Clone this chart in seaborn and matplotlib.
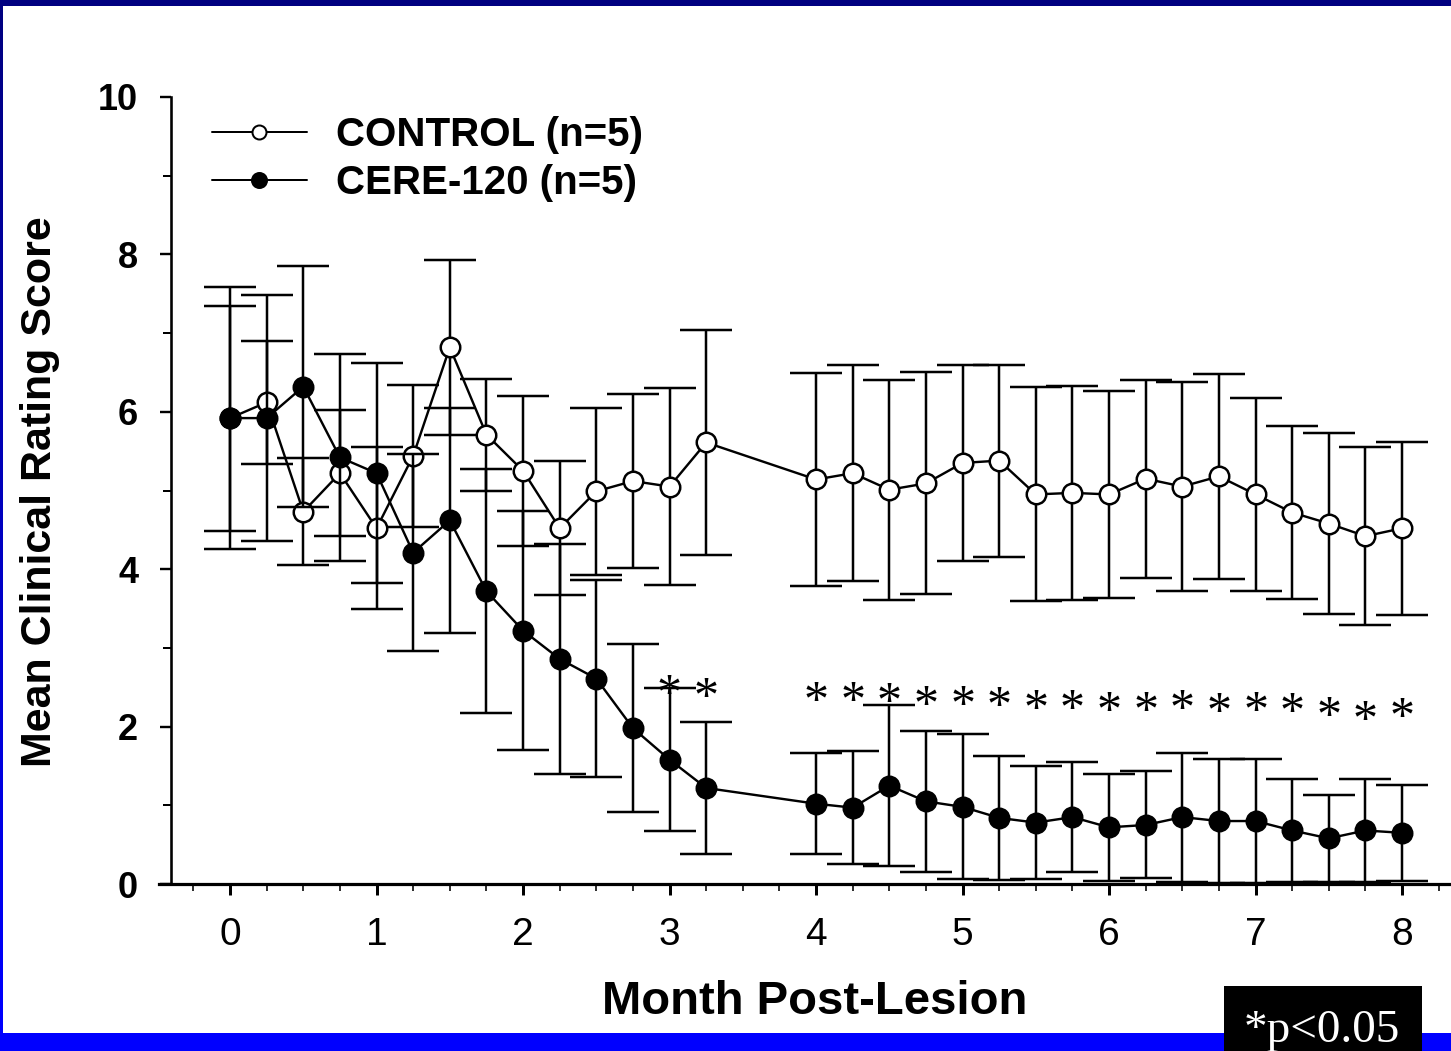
import numpy as np
import pandas as pd
import matplotlib
matplotlib.use("Agg")
import matplotlib.pyplot as plt
import seaborn as sns
from matplotlib.lines import Line2D
from matplotlib.patches import Rectangle
from matplotlib.ticker import FixedLocator
from matplotlib.colors import LinearSegmentedColormap
from matplotlib.font_manager import FontProperties

# ---------------- data ----------------
months = [0, 0.25, 0.5, 0.75, 1.0, 1.25, 1.5, 1.75, 2.0, 2.25, 2.5, 2.75, 3.0, 3.25,
          4.0, 4.25, 4.5, 4.75, 5.0, 5.25, 5.5, 5.75, 6.0, 6.25, 6.5, 6.75, 7.0, 7.25,
          7.5, 7.75, 8.0]
control_mean = [5.92, 6.12, 4.73, 5.22, 4.52, 5.44, 6.82, 5.71, 5.25, 4.52, 4.99, 5.12,
                5.05, 5.61, 5.14, 5.22, 5.01, 5.09, 5.35, 5.38, 4.95, 4.97, 4.95, 5.15,
                5.05, 5.18, 4.95, 4.72, 4.58, 4.42, 4.52]
control_sem = [1.66, 0.78, 0.68, 0.80, 1.03, 0.90, 1.11, 0.71, 0.95, 0.85, 1.06, 1.11,
               1.25, 1.43, 1.35, 1.37, 1.40, 1.41, 1.25, 1.22, 1.36, 1.36, 1.32, 1.26,
               1.33, 1.30, 1.23, 1.10, 1.15, 1.13, 1.10]
cere_mean = [5.92, 5.92, 6.32, 5.42, 5.22, 4.21, 4.62, 3.72, 3.22, 2.86, 2.61, 1.98,
             1.58, 1.22, 1.02, 0.97, 1.25, 1.05, 0.98, 0.84, 0.78, 0.85, 0.72, 0.75,
             0.85, 0.80, 0.80, 0.68, 0.58, 0.68, 0.65]
cere_sem = [1.43, 1.56, 1.53, 1.31, 1.40, 1.25, 1.43, 1.55, 1.52, 1.46, 1.25, 1.07,
            0.91, 0.84, 0.64, 0.72, 1.02, 0.90, 0.92, 0.79, 0.72, 0.70, 0.68, 0.68,
            0.82, 0.79, 0.79, 0.66, 0.55, 0.66, 0.61]
groups = ["CONTROL (n=5)", "CERE-120 (n=5)"]
sig_months = [3.0, 3.25, 4.0, 4.25, 4.5, 4.75, 5.0, 5.25, 5.5, 5.75, 6.0, 6.25, 6.5,
              6.75, 7.0, 7.25, 7.5, 7.75, 8.0]
sig_heights = [2.53, 2.50, 2.44, 2.44, 2.43, 2.40, 2.40, 2.38, 2.35, 2.34, 2.32, 2.32,
               2.34, 2.30, 2.32, 2.30, 2.25, 2.21, 2.24]
x_ticks = [0, 1, 2, 3, 4, 5, 6, 7, 8]
y_ticks = [0, 2, 4, 6, 8, 10]
x_label = "Month Post-Lesion"
y_label = "Mean Clinical Rating Score"
note_text = "*p<0.05"

n = len(months)
df = pd.DataFrame({
    "month": months * 2,
    "score": control_mean + cere_mean,
    "sem": control_sem + cere_sem,
    "group": [groups[0]] * n + [groups[1]] * n,
})

# ---------------- style ----------------
sns.set_theme(style="ticks")
plt.rcParams["font.family"] = ["Liberation Sans", "DejaVu Sans"]
plt.rcParams["text.color"] = "black"
plt.rcParams["axes.labelcolor"] = "black"
plt.rcParams["xtick.color"] = "black"
plt.rcParams["ytick.color"] = "black"
plt.rcParams["legend.labelcolor"] = "black"
PX = 72 / 100.0  # points per pixel

W, H = 1451, 1051
fig = plt.figure(figsize=(W / 100, H / 100), dpi=100)
fig.patch.set_facecolor("white")

ax = fig.add_axes([159 / W, (H - 884) / H, (W - 159) / W, (884 - 97) / H])
ax.set_facecolor("white")

face = {groups[0]: "white", groups[1]: "black"}
z0 = 2
for g in groups:
    sub = df[df["group"] == g]
    ax.errorbar(sub["month"], sub["score"], yerr=sub["sem"], fmt="none",
                ecolor="black", elinewidth=2.5 * PX, capsize=26 * PX,
                capthick=2.5 * PX, zorder=z0)
    sns.lineplot(data=sub, x="month", y="score", ax=ax, color="black",
                 linewidth=2.4 * PX, marker="o", markersize=19.5 * PX,
                 markerfacecolor=face[g], markeredgecolor="black",
                 markeredgewidth=2.5 * PX, errorbar=None, legend=False,
                 zorder=z0 + 1)
    z0 += 2

star_fs = 36
for m, h in zip(sig_months, sig_heights):
    ax.annotate("*", xy=(m, h), xytext=(0, -0.47 * star_fs), textcoords="offset points",
                ha="center", va="baseline", fontsize=star_fs,
                family=["Liberation Serif", "DejaVu Serif"], color="black", zorder=10)

# axes limits / spines
ax.set_xlim(-0.485, 8.334)
ax.set_ylim(0, 10)
for s in ["top", "right"]:
    ax.spines[s].set_visible(False)
ax.spines["left"].set_position(("data", -0.40))
ax.spines["left"].set_linewidth(2.6 * PX)
ax.spines["bottom"].set_linewidth(3.2 * PX)
ax.spines["left"].set_color("black")
ax.spines["bottom"].set_color("black")

ax.set_xticks(x_ticks)
ax.set_xticklabels([str(t) for t in x_ticks])
ax.xaxis.set_minor_locator(FixedLocator(np.arange(-0.25, 8.26, 0.25)))
ax.set_yticks(y_ticks)
ax.set_yticklabels([str(t) for t in y_ticks])
ax.yaxis.set_minor_locator(FixedLocator([1, 3, 5, 7, 9]))

ax.tick_params(axis="x", which="major", direction="out", length=11 * PX,
               width=3 * PX, labelsize=28, pad=16, colors="black")
ax.tick_params(axis="x", which="minor", direction="out", length=7 * PX,
               width=1.6 * PX, colors="black")
ax.tick_params(axis="y", which="major", direction="out", length=11 * PX,
               width=2.4 * PX, labelsize=26, pad=16, colors="black")
ax.tick_params(axis="y", which="minor", direction="out", length=8 * PX,
               width=2.0 * PX, colors="black")
for lab in ax.get_yticklabels():
    lab.set_fontweight("bold")

ax.set_xlabel(x_label, fontsize=34, fontweight="bold", color="black")
ax.xaxis.label.set_va("center")
ax.xaxis.set_label_coords((815 - 159) / 1292, (884 - 1002) / 787)
ax.set_ylabel(y_label, fontsize=31, fontweight="bold", color="black")
ax.yaxis.label.set_va("center")
ax.yaxis.set_label_coords((40 - 159) / 1292, (884 - 492) / 787)
ax.grid(False)

# legend
handles = [
    Line2D([], [], color="black", linewidth=2.0 * PX, marker="o", markersize=14 * PX,
           markerfacecolor=face[groups[0]], markeredgecolor="black",
           markeredgewidth=2.0 * PX),
    Line2D([], [], color="black", linewidth=2.0 * PX, marker="o", markersize=15 * PX,
           markerfacecolor=face[groups[1]], markeredgecolor="black",
           markeredgewidth=2.0 * PX),
]
leg = ax.legend(handles, groups, loc="upper left",
                bbox_to_anchor=((212 - 159) / 1292, (884 - 116) / 787),
                frameon=False, borderaxespad=0, borderpad=0,
                handlelength=2.35, handletextpad=0.72, labelspacing=0.25,
                labelcolor="black",
                prop=FontProperties(family="Liberation Sans", weight="bold", size=29))

# frame decorations
fig.add_artist(Rectangle((0, 1 - 6 / H), 1, 6 / H, transform=fig.transFigure,
                         facecolor="#000080", edgecolor="none", zorder=20))
fig.add_artist(Rectangle((0, 0), 1, 18 / H, transform=fig.transFigure,
                         facecolor="#0000FF", edgecolor="none", zorder=20))
bax = fig.add_axes([0, 18 / H, 2.6 / W, 1 - 24 / H], zorder=21)
cmap = LinearSegmentedColormap.from_list("edge", ["#0000FF", "#000080"])
bax.imshow(np.linspace(0, 1, 256).reshape(-1, 1)[::-1], aspect="auto", cmap=cmap)
bax.axis("off")

fig.add_artist(Rectangle((1224 / W, 0), (1422 - 1224) / W, (H - 986) / H,
                         transform=fig.transFigure, facecolor="black",
                         edgecolor="none", zorder=22))
fig.text(1322 / W, (H - 1042) / H, note_text, color="white", fontsize=34,
         family=["Liberation Serif", "DejaVu Serif"], ha="center", va="baseline",
         zorder=23)

fig.savefig("out.png", dpi=100, facecolor="white")
